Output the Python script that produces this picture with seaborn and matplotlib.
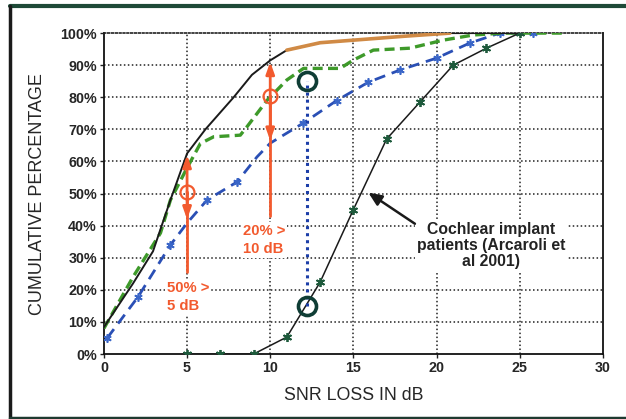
import matplotlib
matplotlib.use("Agg")
import matplotlib.pyplot as plt
import seaborn as sns
import pandas as pd
from matplotlib.lines import Line2D

# ---- data ----
hi_x = [0, 1.75, 2.95, 4.0, 5.0, 6.1, 7.8, 8.9, 10, 11, 13, 15, 18, 20.5, 22, 25]
hi_y = [8.4, 22, 32, 48, 62.5, 70, 80, 87, 91.5, 94.7, 97, 97.8, 99, 100, 100, 100]

or_x = [11, 13, 15, 18, 20.8]
or_y = [94.7, 97, 97.8, 99, 100]

gr_x = [0, 1.75, 3.4, 4, 5, 5.8, 6.6, 8.2, 8.6, 9.8, 11, 12, 14.2, 15, 16.2, 18.4, 20.4, 22.2, 24, 27.8]
gr_y = [8, 24, 37.7, 48, 58, 65.6, 67.7, 68.2, 70.8, 79, 85.4, 89, 89, 91.6, 94.7, 95.3, 97.8, 99.4, 100, 100]

bl_x = [0.2, 2.05, 4, 5, 6.2, 8, 9.2, 10, 12, 14, 15.9, 17.8, 20, 22, 23.8, 25.8]
bl_y = [5, 17.8, 34, 40.8, 48, 53.6, 61.4, 65.7, 72, 79, 84.7, 88.5, 92.2, 96.9, 100, 100]

ci_x = [5, 7, 9, 11, 13, 15, 17, 19, 21, 23, 25]
ci_y = [0, 0, 0, 5.3, 22.4, 45, 67, 78.5, 90, 95.3, 100]

x_ticks = [0, 5, 10, 15, 20, 25, 30]
y_ticks = list(range(0, 101, 10))
y_labels = [f"{v}%" for v in y_ticks]

sns.set_style("white")
plt.rcParams['font.family'] = ['Liberation Sans', 'DejaVu Sans']

fig = plt.figure(figsize=(6.26, 4.19), dpi=100)
ax = fig.add_axes([0.166, 0.155, 0.797, 0.766])

# grid
for gx in [5, 10, 15, 20, 25]:
    ax.axvline(gx, color='#222222', lw=1.1, ls=(0, (1, 1.6)), zorder=0)
for gy in range(10, 100, 10):
    ax.axhline(gy, color='#222222', lw=1.1, ls=(0, (1, 1.6)), zorder=0)

df_hi = pd.DataFrame({'x': hi_x, 'y': hi_y})
df_or = pd.DataFrame({'x': or_x, 'y': or_y})
df_gr = pd.DataFrame({'x': gr_x, 'y': gr_y})
df_bl = pd.DataFrame({'x': bl_x, 'y': bl_y})
df_ci = pd.DataFrame({'x': ci_x, 'y': ci_y})

sns.lineplot(data=df_bl, x='x', y='y', ax=ax, color='#2a4fb5', lw=2.0,
             linestyle=(0, (4, 2.5)), marker=(6, 2, 0), markersize=6,
             markeredgecolor='#3a66c8', markeredgewidth=1.2, sort=False,
             markevery=[0, 1, 2, 4, 5, 8, 9, 10, 11, 12, 13, 14, 15], zorder=3)
sns.lineplot(data=df_gr, x='x', y='y', ax=ax, color='#3e9a2a', lw=2.4,
             linestyle=(0, (3, 1.6)), sort=False, zorder=3)
sns.lineplot(data=df_hi, x='x', y='y', ax=ax, color='#1a1a1a', lw=1.4,
             sort=False, zorder=4)
sns.lineplot(data=df_or, x='x', y='y', ax=ax, color='#d08a45', lw=2.6,
             sort=False, zorder=4)
sns.lineplot(data=df_ci, x='x', y='y', ax=ax, color='#1a1a1a', lw=1.1,
             marker=(6, 2, 0), markersize=6.5, markeredgecolor='#1e5a3c',
             markeredgewidth=1.3, sort=False, zorder=4)

# orange double arrows with circles
orange = '#f25a2e'
for xv, bottom, top, mid, tipdown in [(5, 25.5, 62, 50.5, 42), (10, 43, 91, 80.5, 66.5)]:
    ax.plot([xv, xv], [bottom, mid], color=orange, lw=2, zorder=5)
    ax.annotate('', xy=(xv, top), xytext=(xv, mid),
                arrowprops=dict(arrowstyle='-|>,head_length=0.7,head_width=0.25',
                                color=orange, lw=2, shrinkA=0, shrinkB=0), zorder=5)
    ax.annotate('', xy=(xv, tipdown), xytext=(xv, mid),
                arrowprops=dict(arrowstyle='-|>,head_length=0.7,head_width=0.25',
                                color=orange, lw=2, shrinkA=0, shrinkB=0), zorder=5)
    ax.plot([xv], [mid], marker='o', markersize=10, markerfacecolor='none',
            markeredgecolor=orange, markeredgewidth=1.6, zorder=6)

# blue dotted vertical with circles
ax.plot([12.2, 12.2], [15, 85], color='#1c3ea8', lw=2.2, ls=(0, (1, 1.3)), zorder=5)
for yv in [85, 15]:
    ax.plot([12.2], [yv], marker='o', markersize=13, markerfacecolor='none',
            markeredgecolor='#0f3d35', markeredgewidth=2.6, zorder=6)

box = dict(boxstyle='square,pad=0.15', facecolor='white', edgecolor='none')
ax.text(8.35, 35.5, "20% >\n10 dB", color=orange, fontsize=10.7, fontweight='bold',
        ha='left', va='center', linespacing=1.3, bbox=box, zorder=7)
ax.text(3.78, 17.8, "50% >\n5 dB", color=orange, fontsize=10.7, fontweight='bold',
        ha='left', va='center', linespacing=1.3, bbox=box, zorder=7)
ax.text(23.3, 33.8, "Cochlear implant\npatients (Arcaroli et\nal 2001)", color='#222222',
        fontsize=11.3, fontweight='bold', ha='center', va='center', linespacing=1.1,
        bbox=box, zorder=7)
ax.annotate('', xy=(15.9, 50.3), xytext=(18.7, 40.6),
            arrowprops=dict(arrowstyle='-|>,head_length=0.8,head_width=0.35',
                            color='#1a1a1a', lw=1.8, shrinkA=0, shrinkB=0), zorder=7)

ax.set_xlim(0, 30)
ax.set_ylim(0, 100)
ax.set_xticks(x_ticks)
ax.set_xticklabels([str(v) for v in x_ticks], fontweight='bold', fontsize=10.3)
ax.set_yticks(y_ticks)
ax.set_yticklabels(y_labels, fontweight='bold', fontsize=10.3)
ax.tick_params(axis='both', direction='out', length=3, width=1, color='#222222',
               left=True, bottom=True, pad=2)
ax.set_xlabel("SNR LOSS IN dB", fontsize=12.8, labelpad=9)
ax.set_ylabel("CUMULATIVE PERCENTAGE", fontsize=13, labelpad=10)

for s in ['left', 'bottom', 'right']:
    ax.spines[s].set_color('#111111')
    ax.spines[s].set_linewidth(1.3)
ax.spines['top'].set_color('#222222')
ax.spines['top'].set_linewidth(1.2)
ax.spines['top'].set_linestyle((0, (1, 1.3)))

# figure frame
fig.add_artist(Line2D([10/626, 1], [1 - 6/419, 1 - 6/419], color='#1e4a38', lw=3))
fig.add_artist(Line2D([10/626, 10/626], [0, 1 - 6/419], color='#1a1a1a', lw=2.5))
fig.add_artist(Line2D([10/626, 1], [1/419, 1/419], color='#1e3a30', lw=2.5))

fig.savefig("out.png", dpi=100, facecolor='white')
